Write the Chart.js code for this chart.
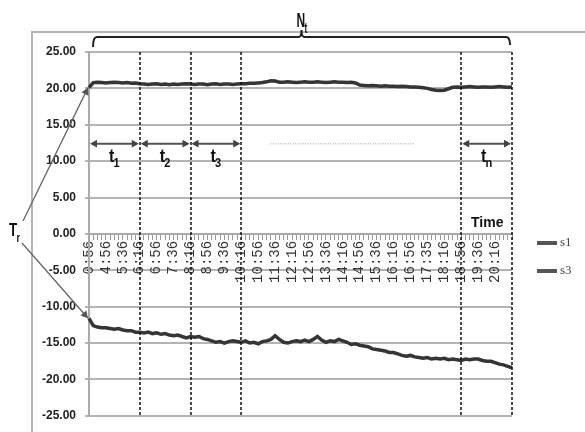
<!DOCTYPE html>
<html>
<head>
<meta charset="utf-8">
<script src="https://cdn.jsdelivr.net/npm/chart.js@4"></script>
<style>
  html, body { margin: 0; padding: 0; background: #fff; }
</style>
</head>
<body>
<canvas id="grafico" width="585" height="432"></canvas>
<script>
// time labels, one every 4 samples
const timeLabels = ['0:56', '4:56', '5:36', '6:16', '6:56', '7:36', '8:16', '8:56', '9:36', '10:16',
    '10:56', '11:36', '12:16', '12:56', '13:36', '14:16', '14:56', '15:36', '16:16', '16:56',
    '17:35', '18:16', '18:56', '19:36', '20:16'];
const stepsPerLabel = 4;

const s1 = [20.1,
    20.8, 20.85, 20.8, 20.75, 20.8, 20.85, 20.8, 20.75, 20.8, 20.7, 20.75,
    20.65, 20.6, 20.55, 20.6, 20.65, 20.55, 20.6, 20.5, 20.6, 20.55, 20.6, 20.65, 20.6,
    20.55, 20.6, 20.6, 20.5, 20.6, 20.65, 20.55, 20.6, 20.6, 20.55, 20.6, 20.65,
    20.65, 20.7, 20.7, 20.75, 20.8, 20.9,
    21.05, 21.0, 20.85,
    20.85, 20.9, 20.85, 20.8, 20.85, 20.9, 20.85, 20.85, 20.9, 20.85, 20.8, 20.85,
    20.9, 20.85, 20.85, 20.8, 20.85, 20.75,
    20.45,
    20.4, 20.35, 20.4, 20.35, 20.3, 20.35, 20.3, 20.3, 20.25, 20.3, 20.25, 20.2, 20.2,
    20.15, 20.1, 20.0, 19.85, 19.75, 19.7, 19.75, 19.95, 20.15,
    20.2, 20.15, 20.2, 20.25, 20.2, 20.15, 20.2, 20.2, 20.15, 20.2, 20.25, 20.2, 20.15, 20.2];

const s3 = [-11.6, -12.6, -12.8, -12.9, -12.9, -13.0, -13.1, -13.0, -13.2, -13.3,
    -13.3, -13.5, -13.5, -13.6, -13.5, -13.7, -13.6, -13.8, -13.7, -13.9,
    -14.0, -13.9, -14.1, -14.3, -14.1, -14.2, -14.1, -14.4, -14.5, -14.7,
    -14.9, -14.8, -15.0, -14.8, -14.7, -14.8, -14.9, -14.7, -15.0, -14.9,
    -15.1, -14.8, -14.7, -14.5, -14.0, -14.5, -14.9, -15.0, -14.8, -14.7,
    -14.8, -14.6, -14.8, -14.5, -14.1, -14.6, -14.9, -14.7, -14.8, -14.5,
    -14.7, -14.9, -15.2, -15.1, -15.3, -15.4, -15.5, -15.8, -15.9, -16.0,
    -16.1, -16.3, -16.3, -16.5, -16.7, -16.8, -16.7, -16.9, -17.0, -17.1,
    -17.0, -17.2, -17.1, -17.2, -17.1, -17.3, -17.2, -17.3, -17.4, -17.2,
    -17.3, -17.2, -17.2, -17.4, -17.5, -17.5, -17.7, -17.9, -18.0, -18.2, -18.4];

const seriesNames = ['s1', 's3'];
const dividers = ['6:16', '8:16', '10:16', '18:56'];
// [start, end, subscript]; null = end of record
const periods = [['0:56', '6:16', '1'], ['6:16', '8:16', '2'], ['8:16', '10:16', '3'], ['18:56', null, 'n']];

const labels = s1.map((v, i) => (i % stepsPerLabel === 0 && timeLabels[i / stepsPerLabel]) ? timeLabels[i / stepsPerLabel] : '');

function idx(lbl) {
    return lbl === null ? labels.length - 1 : timeLabels.indexOf(lbl) * stepsPerLabel;
}

function seta(ctx, x1, y1, x2, y2, size) {
    const ang = Math.atan2(y2 - y1, x2 - x1);
    ctx.beginPath();
    ctx.moveTo(x2, y2);
    ctx.lineTo(x2 - size * Math.cos(ang - 0.5), y2 - size * Math.sin(ang - 0.5));
    ctx.lineTo(x2 - size * Math.cos(ang + 0.5), y2 - size * Math.sin(ang + 0.5));
    ctx.closePath();
    ctx.fill();
}

// letter + subscript, squeezed a bit like the original
function textoSub(ctx, base, sub, x, yb, size, sx) {
    ctx.save();
    ctx.translate(x, yb);
    ctx.scale(sx, 1);
    ctx.textAlign = 'left';
    ctx.textBaseline = 'alphabetic';
    ctx.font = 'bold ' + size + 'px "Liberation Sans"';
    ctx.fillText(base, 0, 0);
    const w = ctx.measureText(base).width;
    ctx.font = 'bold ' + Math.round(size * 0.7) + 'px "Liberation Sans"';
    ctx.fillText(sub, w - 1, size * 0.3);
    ctx.restore();
}

function larguraSub(ctx, base, sub, size, sx) {
    ctx.font = 'bold ' + size + 'px "Liberation Sans"';
    const w = ctx.measureText(base).width;
    ctx.font = 'bold ' + Math.round(size * 0.7) + 'px "Liberation Sans"';
    return (w - 1 + ctx.measureText(sub).width) * sx;
}

const moldura = {
    id: 'moldura',
    beforeDraw(chart) {
        const ctx = chart.ctx;
        ctx.save();
        ctx.strokeStyle = '#b4b4b4';
        ctx.lineWidth = 2;
        ctx.beginPath();
        ctx.moveTo(32, chart.height);
        ctx.lineTo(32, 32);
        ctx.lineTo(chart.width, 32);
        ctx.stroke();
        ctx.restore();
    }
};

const anotacoes = {
    id: 'anotacoes',
    afterDatasetsDraw(chart) {
        const {ctx, chartArea: a, scales: {x, y}} = chart;
        ctx.save();

        // dashed period dividers
        ctx.strokeStyle = '#111';
        ctx.lineWidth = 1.5;
        ctx.setLineDash([3, 2]);
        dividers.concat([null]).forEach(d => {
            const px = Math.round(x.getPixelForValue(idx(d)));
            ctx.beginPath();
            ctx.moveTo(px, a.top);
            ctx.lineTo(px, a.bottom);
            ctx.stroke();
        });
        ctx.setLineDash([]);

        // double arrows for each period
        const ya = y.getPixelForValue(12.4);
        ctx.strokeStyle = '#555';
        ctx.fillStyle = '#444';
        ctx.lineWidth = 2;
        periods.forEach(p => {
            const xa = x.getPixelForValue(idx(p[0]));
            const xb = x.getPixelForValue(idx(p[1]));
            ctx.beginPath();
            ctx.moveTo(xa + 3, ya);
            ctx.lineTo(xb - 3, ya);
            ctx.stroke();
            seta(ctx, xb, ya, xa + 1, ya, 8);
            seta(ctx, xa, ya, xb - 1, ya, 8);
            ctx.fillStyle = '#111';
            const w = larguraSub(ctx, 't', p[2], 19, 0.85);
            textoSub(ctx, 't', p[2], (xa + xb) / 2 - w / 2, ya + 18, 19, 0.85);
            ctx.fillStyle = '#444';
        });

        // faint dotted line for the omitted periods
        ctx.strokeStyle = '#bdbdbd';
        ctx.lineWidth = 1.5;
        ctx.setLineDash([1, 1.5]);
        ctx.beginPath();
        ctx.moveTo(x.getPixelForValue(idx('10:56')) + 12, ya);
        ctx.lineTo(x.getPixelForValue(idx('17:35')) - 13, ya);
        ctx.stroke();
        ctx.setLineDash([]);

        // brace over the whole record, N_t
        const bl = x.getPixelForValue(0) + 4;
        const br = a.right - 2;
        const bm = (bl + br) / 2;
        const yb = 37;
        ctx.strokeStyle = '#222';
        ctx.lineWidth = 2;
        ctx.beginPath();
        ctx.moveTo(bl, yb + 10);
        ctx.quadraticCurveTo(bl, yb, bl + 4, yb);
        ctx.lineTo(bm - 3, yb);
        ctx.quadraticCurveTo(bm, yb, bm, yb - 7);
        ctx.quadraticCurveTo(bm, yb, bm + 3, yb);
        ctx.lineTo(br - 4, yb);
        ctx.quadraticCurveTo(br, yb, br, yb + 8);
        ctx.stroke();
        ctx.fillStyle = '#111';
        textoSub(ctx, 'N', 't', bm - 5, 27, 20, 0.6);

        // T_r pointing at both starting temperatures
        ctx.fillStyle = '#111';
        textoSub(ctx, 'T', 'r', 9, 236, 19, 0.7);
        ctx.strokeStyle = '#666';
        ctx.fillStyle = '#555';
        ctx.lineWidth = 1.3;
        const x0 = x.getPixelForValue(0) - 1;
        const y1 = y.getPixelForValue(s1[0]);
        const y3 = y.getPixelForValue(s3[0]);
        ctx.beginPath();
        ctx.moveTo(23, 221);
        ctx.lineTo(x0, y1);
        ctx.moveTo(22, 243);
        ctx.lineTo(x0, y3);
        ctx.stroke();
        seta(ctx, 23, 221, x0, y1, 8);
        seta(ctx, 22, 243, x0, y3, 8);

        // axis title
        ctx.fillStyle = '#111';
        ctx.font = 'bold 14px "Liberation Sans"';
        ctx.textAlign = 'left';
        ctx.textBaseline = 'alphabetic';
        ctx.fillText('Time', 471, y.getPixelForValue(0) - 7);

        // legend
        chart.data.datasets.forEach((ds, i) => {
            const ly = 243 + i * 28;
            ctx.strokeStyle = '#555';
            ctx.lineWidth = 4;
            ctx.beginPath();
            ctx.moveTo(a.right + 25, ly);
            ctx.lineTo(a.right + 45, ly);
            ctx.stroke();
            ctx.fillStyle = '#444';
            ctx.font = '13px "Liberation Serif"';
            ctx.textBaseline = 'middle';
            ctx.fillText(ds.label, a.right + 48, ly);
        });
        ctx.restore();
    }
};

new Chart(document.getElementById('grafico').getContext('2d'), {
    type: 'line',
    data: {
        labels: labels,
        datasets: [
            {label: seriesNames[0], data: s1, borderColor: '#353535', borderWidth: 3.5, pointRadius: 0, tension: 0},
            {label: seriesNames[1], data: s3, borderColor: '#353535', borderWidth: 3.5, pointRadius: 0, tension: 0}
        ]
    },
    options: {
        responsive: false,
        animation: false,
        layout: {padding: {left: 32, top: 52, right: 73, bottom: 14}},
        plugins: {
            legend: {display: false},
            tooltip: {enabled: false}
        },
        scales: {
            x: {
                type: 'category',
                position: {y: 0},
                grid: {drawOnChartArea: false, drawTicks: true, tickLength: 5, color: '#9a9a9a', tickWidth: 1},
                border: {color: '#aaa', width: 2},
                ticks: {
                    autoSkip: false, maxRotation: 90, minRotation: 90, padding: 2,
                    color: '#333', font: {family: 'Liberation Mono', size: 14}
                }
            },
            y: {
                min: -25,
                max: 25,
                afterFit: s => { s.width = 57; },
                grid: {color: '#b4b4b4', lineWidth: 2, tickLength: 4},
                border: {color: '#aaa', width: 2},
                ticks: {
                    stepSize: 5, padding: 9, color: '#222',
                    font: {family: 'Liberation Sans', size: 12, weight: 'bold'},
                    callback: v => v.toFixed(2)
                }
            }
        }
    },
    plugins: [moldura, anotacoes]
});
</script>
</body>
</html>
